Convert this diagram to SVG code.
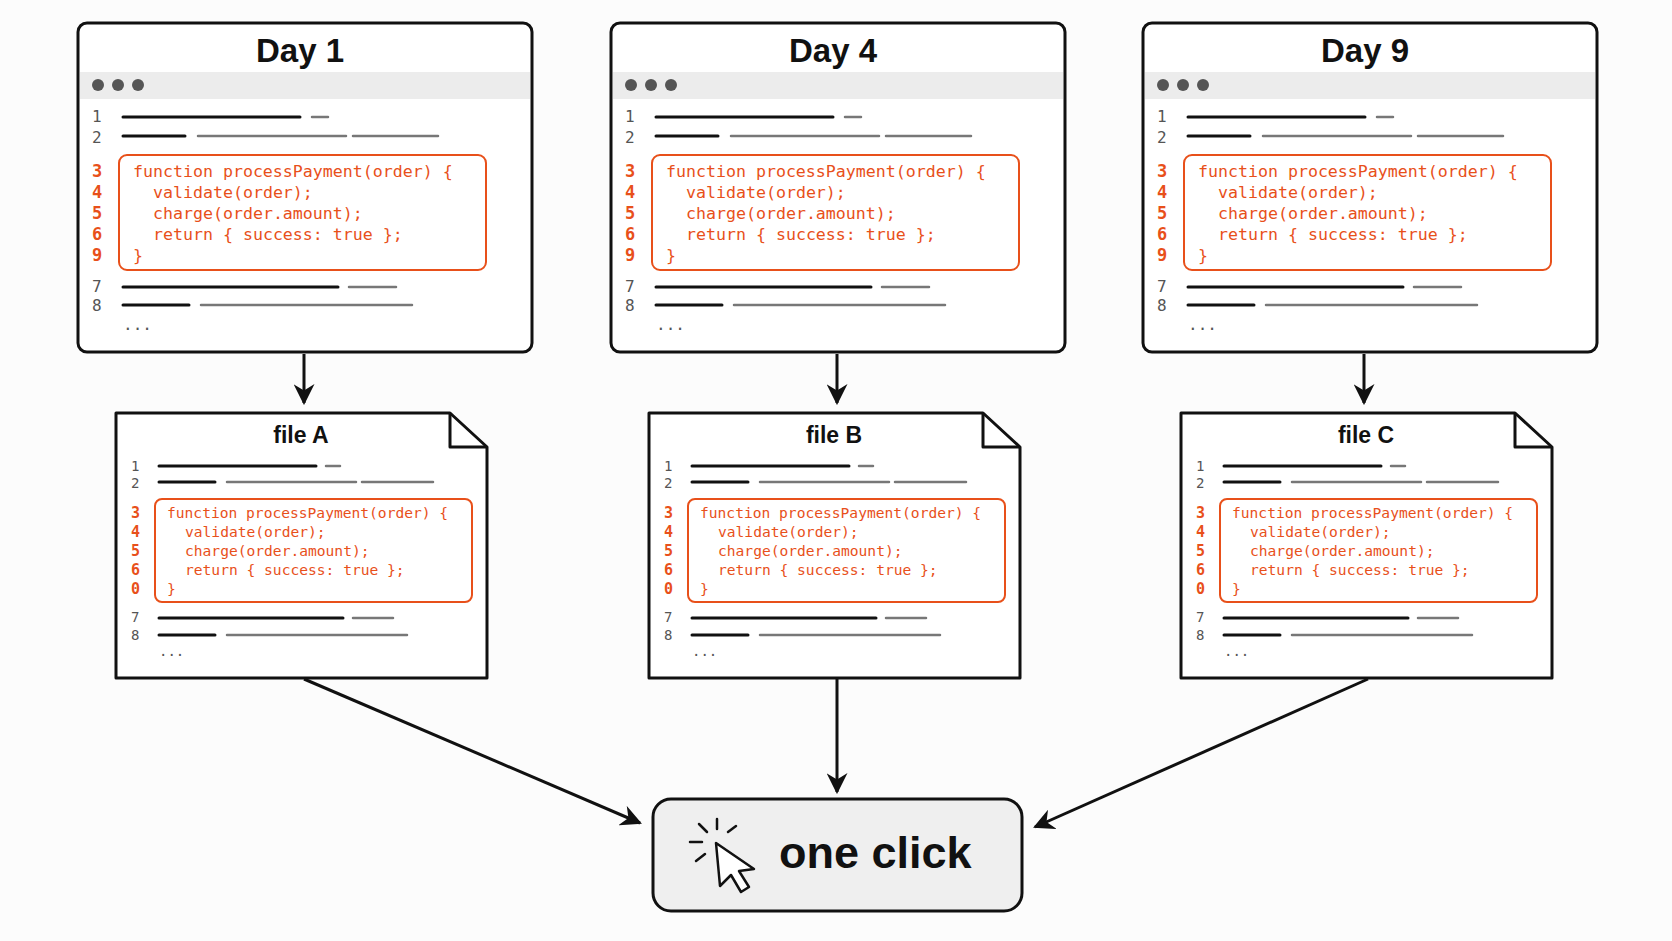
<svg xmlns="http://www.w3.org/2000/svg" xmlns:xlink="http://www.w3.org/1999/xlink" width="1672" height="941" viewBox="0 0 1672 941">
<style>
.t{font-family:"Liberation Sans",Arial,sans-serif;font-weight:bold;fill:#111;text-anchor:middle}
.ln{font-family:"DejaVu Sans Mono","Liberation Mono",monospace;fill:#555}
.rn{font-family:"DejaVu Sans Mono","Liberation Mono",monospace;fill:#e8501a;font-weight:bold}
.code{font-family:"DejaVu Sans Mono","Liberation Mono",monospace;fill:#e8501a;white-space:pre}
.k{stroke:#111;stroke-width:3;stroke-linecap:round}
.g{stroke:#777;stroke-width:2.5;stroke-linecap:round}
.box{fill:#fff;stroke:#111;stroke-width:3}
.hl{fill:none;stroke:#e8501a;stroke-width:2}
.con{stroke:#111;stroke-width:3;fill:none;marker-end:url(#ah)}
</style>
<defs>
<marker id="ah" viewBox="0 0 10 10" refX="9" refY="5" markerWidth="7" markerHeight="7" orient="auto" markerUnits="strokeWidth"><path d="M0 0L10 5L0 10L3 5Z" fill="#111"/></marker>
<g id="win">
<rect class="box" x="78" y="23" width="454" height="329" rx="9"/>
<rect x="80" y="72" width="450" height="27" fill="#ececec"/>
<circle cx="98" cy="85" r="6" fill="#555"/><circle cx="118" cy="85" r="6" fill="#555"/><circle cx="138" cy="85" r="6" fill="#555"/>
<g font-size="16"><text x="92" y="122" class="ln">1</text><text x="92" y="143" class="ln">2</text><text x="92" y="292" class="ln">7</text><text x="92" y="311" class="ln">8</text><text x="123" y="330" class="ln">...</text></g>
<line class="k" x1="123" y1="117" x2="300" y2="117"/><line class="g" x1="312" y1="117" x2="328" y2="117"/>
<line class="k" x1="123" y1="136" x2="185" y2="136"/><line class="g" x1="198" y1="136" x2="346" y2="136"/><line class="g" x1="353" y1="136" x2="438" y2="136"/>
<line class="k" x1="123" y1="287" x2="338" y2="287"/><line class="g" x1="349" y1="287" x2="396" y2="287"/>
<line class="k" x1="123" y1="305" x2="189" y2="305"/><line class="g" x1="201" y1="305" x2="412" y2="305"/>
<rect class="hl" x="119" y="155" width="367" height="115" rx="8"/>
<g font-size="17"><text class="rn" x="92" y="177">3</text><text class="rn" x="92" y="198">4</text><text class="rn" x="92" y="219">5</text><text class="rn" x="92" y="240">6</text><text class="rn" x="92" y="261">9</text></g>
<g font-size="16.6"><text class="code" x="133" y="177">function processPayment(order) {</text><text class="code" x="153" y="198">validate(order);</text><text class="code" x="153" y="219">charge(order.amount);</text><text class="code" x="153" y="240">return { success: true };</text><text class="code" x="133" y="261">}</text></g>
</g>
<g id="doc">
<path class="box" d="M116 413H450L487 447V678H116Z" stroke-linejoin="round"/>
<path d="M450 413V447H487" fill="none" stroke="#111" stroke-width="3" stroke-linejoin="round"/>
<g font-size="14"><text class="ln" x="131" y="471">1</text><text class="ln" x="131" y="488">2</text><text class="ln" x="131" y="622">7</text><text class="ln" x="131" y="640">8</text><text class="ln" x="159" y="656">...</text></g>
<line class="k" x1="159" y1="466" x2="316" y2="466"/><line class="g" x1="326" y1="466" x2="340" y2="466"/>
<line class="k" x1="159" y1="482" x2="215" y2="482"/><line class="g" x1="227" y1="482" x2="356" y2="482"/><line class="g" x1="362" y1="482" x2="433" y2="482"/>
<line class="k" x1="159" y1="618" x2="343" y2="618"/><line class="g" x1="353" y1="618" x2="393" y2="618"/>
<line class="k" x1="159" y1="635" x2="215" y2="635"/><line class="g" x1="227" y1="635" x2="407" y2="635"/>
<rect class="hl" x="155" y="499" width="317" height="103" rx="7"/>
<g font-size="15"><text class="rn" x="131" y="518">3</text><text class="rn" x="131" y="537">4</text><text class="rn" x="131" y="556">5</text><text class="rn" x="131" y="575">6</text><text class="rn" x="131" y="594">0</text></g>
<g font-size="14.6"><text class="code" x="167" y="518">function processPayment(order) {</text><text class="code" x="185" y="537">validate(order);</text><text class="code" x="185" y="556">charge(order.amount);</text><text class="code" x="185" y="575">return { success: true };</text><text class="code" x="167" y="594">}</text></g>
</g>
</defs>
<rect width="1672" height="941" fill="#fcfcfc"/>
<g id="day1"><use xlink:href="#win"/><text class="t" x="300" y="62" font-size="33">Day 1</text></g>
<g id="day4" transform="translate(533,0)"><use xlink:href="#win"/><text class="t" x="300" y="62" font-size="33">Day 4</text></g>
<g id="day9" transform="translate(1065,0)"><use xlink:href="#win"/><text class="t" x="300" y="62" font-size="33">Day 9</text></g>
<g id="fileA"><use xlink:href="#doc"/><text class="t" x="301" y="443" font-size="23">file A</text></g>
<g id="fileB" transform="translate(533,0)"><use xlink:href="#doc"/><text class="t" x="301" y="443" font-size="23">file B</text></g>
<g id="fileC" transform="translate(1065,0)"><use xlink:href="#doc"/><text class="t" x="301" y="443" font-size="23">file C</text></g>
<g id="oneclick">
<rect x="653" y="799" width="369" height="112" rx="18" fill="#efefef" stroke="#111" stroke-width="3"/>
<g stroke="#111" stroke-width="2.5" stroke-linecap="round" fill="none">
<line x1="717" y1="819" x2="717" y2="829"/><line x1="699" y1="824" x2="707" y2="832"/><line x1="728" y1="832" x2="736" y2="826"/><line x1="690" y1="842" x2="702" y2="842"/><line x1="696" y1="861" x2="705" y2="854"/>
<path d="M716 843L720 886L731 875L741 892L749 887L739 871L754 869Z" fill="#fff" stroke-linejoin="round"/>
</g>
<text class="t" x="779" y="868" font-size="45" style="text-anchor:start">one click</text>
</g>
<g id="connectors">
<path class="con" d="M304 354V403"/>
<path class="con" d="M837 354V403"/>
<path class="con" d="M1364 354V403"/>
<path class="con" d="M304 679L640 823"/>
<path class="con" d="M837 679V792"/>
<path class="con" d="M1368 679L1035 827"/>
</g>
</svg>
